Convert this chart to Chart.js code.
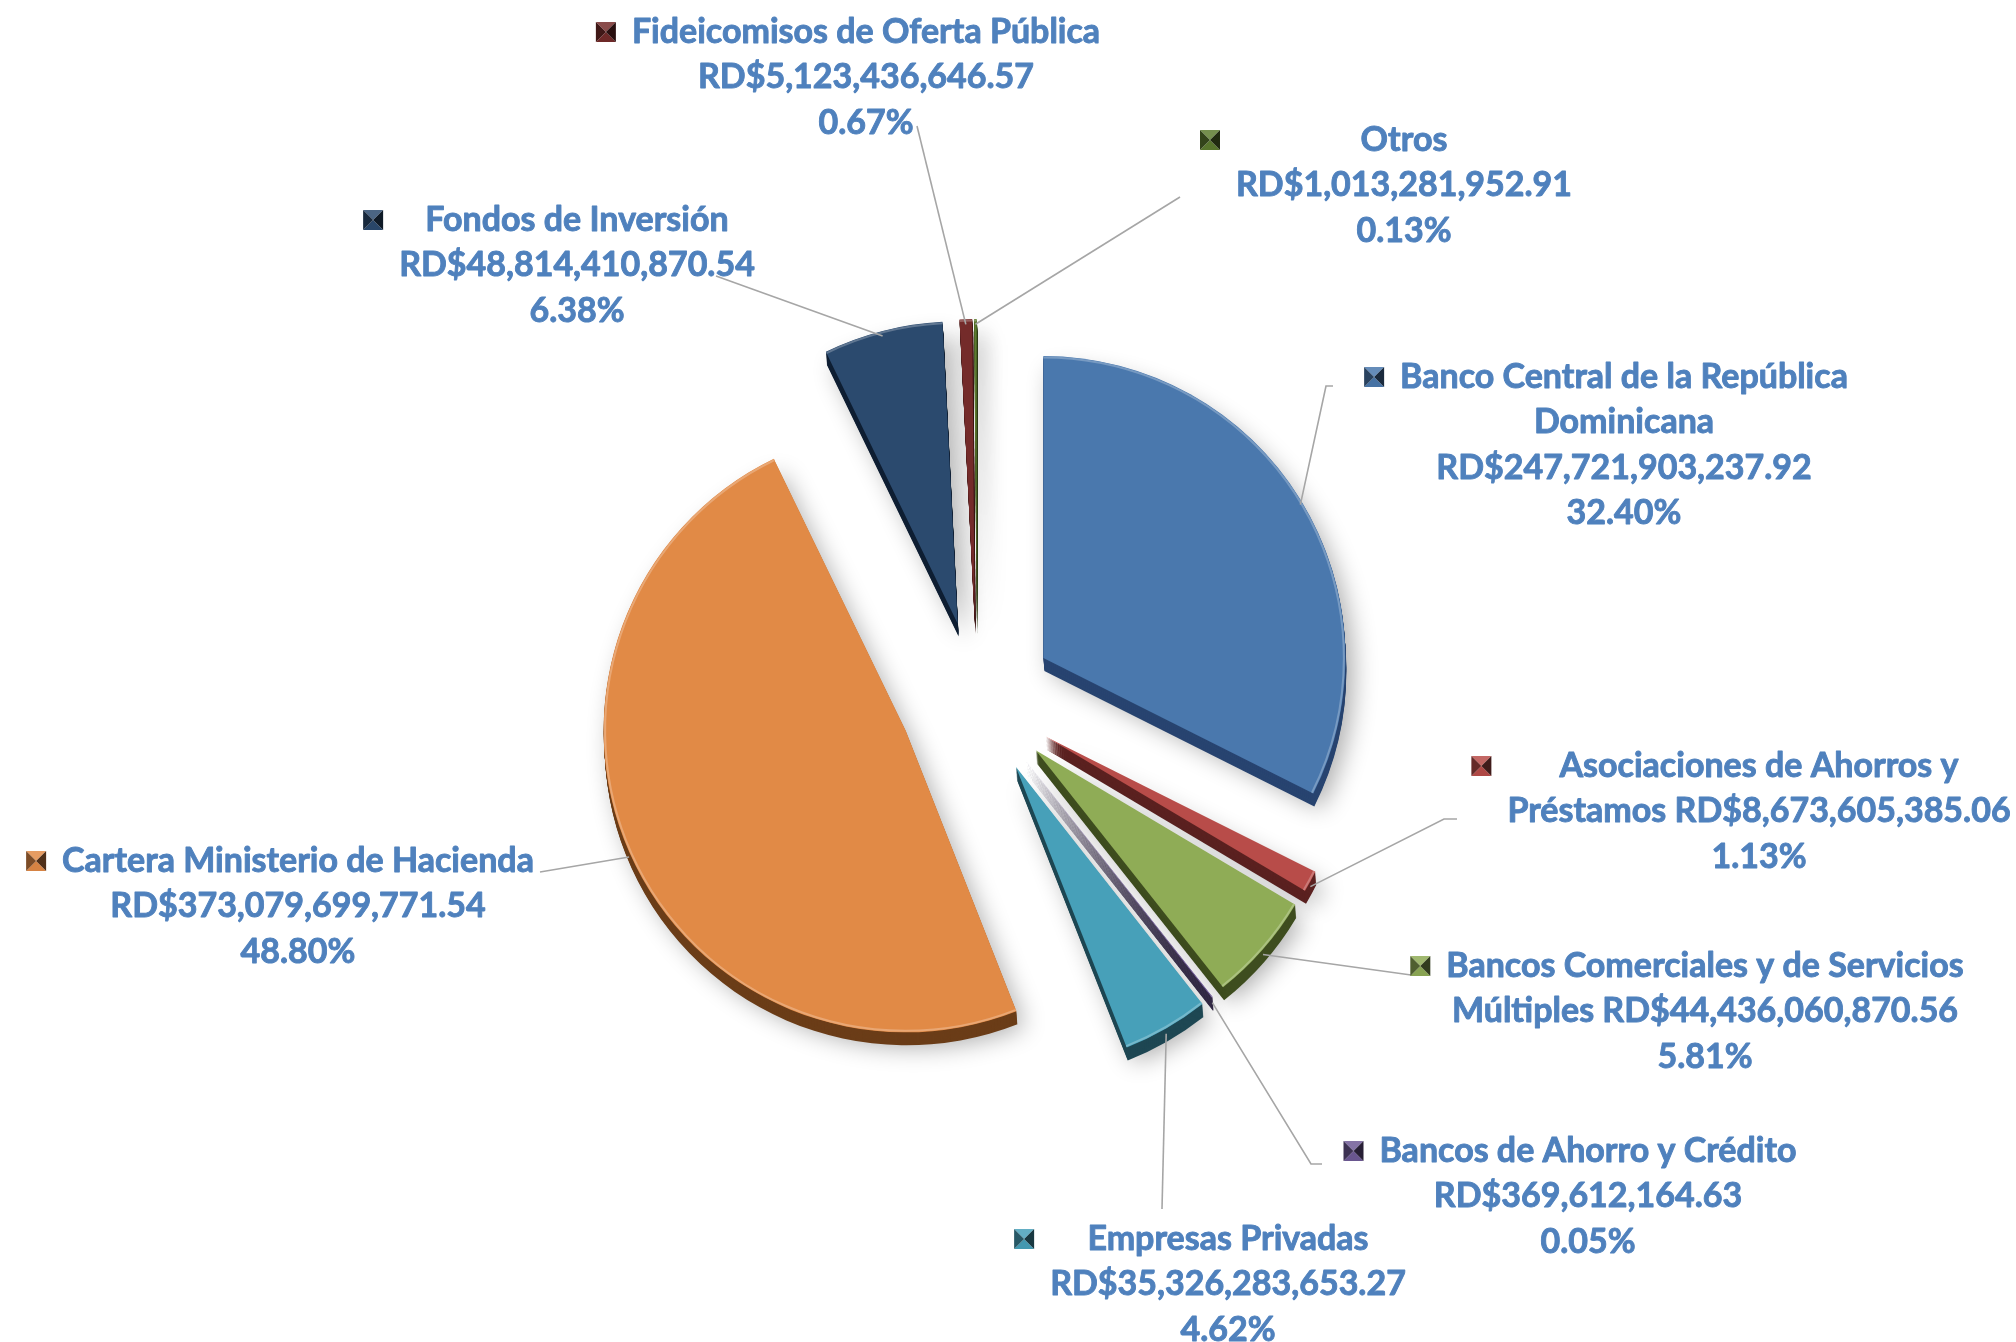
<!DOCTYPE html>
<html>
<head>
<meta charset="utf-8">
<script src="https://cdn.jsdelivr.net/npm/chart.js@4.4.0/dist/chart.umd.min.js"></script>
<style>
  html, body { margin: 0; padding: 0; background: #fff; }
  canvas { display: block; }
</style>
</head>
<body>
<canvas id="pie" width="2016" height="1342"></canvas>
<script>
// portfolio by holder, clockwise from 12 o'clock
const categories = [
  "Banco Central de la República Dominicana",
  "Asociaciones de Ahorros y Préstamos",
  "Bancos Comerciales y de Servicios Múltiples",
  "Bancos de Ahorro y Crédito",
  "Empresas Privadas",
  "Cartera Ministerio de Hacienda",
  "Fondos de Inversión",
  "Fideicomisos de Oferta Pública",
  "Otros"
];
const amounts = [
  247721903237.92, 8673605385.06, 44436060870.56, 369612164.63,
  35326283653.27, 373079699771.54, 48814410870.54, 5123436646.57, 1013281952.91
];

const topColors  = ["#4a78ad", "#b84c49", "#8fac56", "#6f5a96", "#47a0b9", "#e18a46", "#2b4a6e", "#742b2a", "#5d7b2f"];
const sideColors = ["#284470", "#5c2221", "#3e4d1f", "#2e2442", "#1e4753", "#6b3d18", "#0f1f33", "#3a1514", "#2c3a14"];

const TEXT_COLOR = "#4f81bd";
const FONT = "bold 34px Lato";
const LINE_H = 45.5;

// label placement: centre x, first line y, where the leader line meets the text
const labelLayout = [
  { cx: 1624, y: 377,  anchor: [1326, 386],  tick: 7,  wrap: 5, inline: false },
  { cx: 1759, y: 766,  anchor: [1444, 819],  tick: 13, wrap: 4, inline: true },
  { cx: 1705, y: 966,  anchor: [1411, 975],  tick: 12, wrap: 5, inline: true },
  { cx: 1588, y: 1151, anchor: [1311, 1164], tick: 11 },
  { cx: 1228, y: 1239, anchor: [1162, 1209] },
  { cx: 298,  y: 861,  anchor: [540, 872] },
  { cx: 577,  y: 220,  anchor: [716, 276] },
  { cx: 866,  y: 32,   anchor: [917, 126] },
  { cx: 1404, y: 140,  anchor: [1180, 197] }
];

const total = amounts.reduce((a, b) => a + b, 0);
const money = v => "RD$" + v.toLocaleString("en-US", { minimumFractionDigits: 2, maximumFractionDigits: 2 });
const pct = v => (v / total * 100).toFixed(2) + "%";

function shade(hex, f) {
  const n = parseInt(hex.slice(1), 16);
  let r = n >> 16, g = (n >> 8) & 255, b = n & 255;
  if (f >= 0) { r += (255 - r) * f; g += (255 - g) * f; b += (255 - b) * f; }
  else { r *= 1 + f; g *= 1 + f; b *= 1 + f; }
  return `rgb(${Math.round(r)},${Math.round(g)},${Math.round(b)})`;
}

function labelLines(i) {
  const lay = labelLayout[i];
  const words = categories[i].split(" ");
  let name = [categories[i]];
  if (lay.wrap) name = [words.slice(0, lay.wrap).join(" "), words.slice(lay.wrap).join(" ")];
  const lines = name.slice();
  if (lay.inline) lines[lines.length - 1] += " " + money(amounts[i]);
  else lines.push(money(amounts[i]));
  lines.push(pct(amounts[i]));
  return lines;
}

// exploded slices with a dark extruded side, drawn with the arc elements
const pie3d = {
  id: "pie3d",
  beforeDatasetDraw(chart, args, opts) {
    const ctx = chart.ctx;
    const arcs = args.meta.data;
    const shift = arc => {
      const mid = (arc.startAngle + arc.endAngle) / 2;
      ctx.translate(Math.cos(mid) * opts.explode, Math.sin(mid) * opts.explode);
    };
    arcs.forEach((arc, i) => {
      ctx.save();
      shift(arc);
      for (let k = opts.depth; k >= 1; k--) {
        if (k === opts.depth) {
          ctx.shadowColor = "rgba(0,0,0,0.32)";
          ctx.shadowBlur = 24;
          ctx.shadowOffsetX = 7;
          ctx.shadowOffsetY = 2;
        } else {
          ctx.shadowColor = "transparent";
        }
        const ox = arc.x + opts.dx * k / opts.depth, oy = arc.y + k;
        ctx.beginPath();
        ctx.moveTo(ox, oy);
        ctx.arc(ox, oy, arc.outerRadius, arc.startAngle, arc.endAngle);
        ctx.closePath();
        ctx.fillStyle = sideColors[i];
        ctx.fill();
      }
      ctx.restore();
    });
    arcs.forEach((arc, i) => {
      ctx.save();
      shift(arc);
      arc.draw(ctx);
      // thin bevel along the rim
      ctx.beginPath();
      ctx.arc(arc.x, arc.y, arc.outerRadius - 1.5, arc.startAngle, arc.endAngle);
      ctx.strokeStyle = shade(topColors[i], 0.25);
      ctx.lineWidth = 2;
      ctx.stroke();
      ctx.restore();
    });
    return false;
  }
};

function drawKey(ctx, x, y, s, color) {
  const c = [x + s / 2, y + s / 2];
  const tri = (p1, p2, fill) => {
    ctx.beginPath();
    ctx.moveTo(p1[0], p1[1]); ctx.lineTo(p2[0], p2[1]); ctx.lineTo(c[0], c[1]);
    ctx.closePath(); ctx.fillStyle = fill; ctx.fill();
  };
  tri([x, y], [x + s, y], shade(color, 0.15));
  tri([x, y + s], [x + s, y + s], shade(color, -0.05));
  tri([x, y], [x, y + s], shade(color, -0.45));
  tri([x + s, y], [x + s, y + s], shade(color, -0.65));
}

const pieLabels = {
  id: "pieLabels",
  afterDraw(chart, args, opts) {
    const ctx = chart.ctx;
    const meta = chart.getDatasetMeta(0);
    ctx.save();
    // leader lines
    ctx.strokeStyle = "#a6a6a6";
    ctx.lineWidth = 1.6;
    meta.data.forEach((arc, i) => {
      const lay = labelLayout[i];
      const mid = (arc.startAngle + arc.endAngle) / 2;
      const r = arc.outerRadius + opts.explode;
      const px = arc.x + Math.cos(mid) * r;
      const py = arc.y + Math.sin(mid) * r + opts.depth * 0.4;
      ctx.beginPath();
      ctx.moveTo(px, py);
      ctx.lineTo(lay.anchor[0], lay.anchor[1]);
      if (lay.tick) ctx.lineTo(lay.anchor[0] + lay.tick, lay.anchor[1]);
      ctx.stroke();
    });
    // text blocks with legend keys
    ctx.font = FONT;
    ctx.textAlign = "center";
    ctx.textBaseline = "middle";
    ctx.lineWidth = 0.9;
    ctx.lineJoin = "round";
    meta.data.forEach((arc, i) => {
      const lay = labelLayout[i];
      const lines = labelLines(i);
      const widest = Math.max(...lines.map(t => ctx.measureText(t).width));
      ctx.fillStyle = TEXT_COLOR;
      ctx.strokeStyle = TEXT_COLOR;
      lines.forEach((t, k) => {
        ctx.fillText(t, lay.cx, lay.y + k * LINE_H);
        ctx.strokeText(t, lay.cx, lay.y + k * LINE_H);
      });
      const ks = 20;
      drawKey(ctx, lay.cx - widest / 2 - 16 - ks, lay.y - ks / 2, ks, topColors[i]);
    });
    ctx.restore();
  }
};

new Chart(document.getElementById("pie"), {
  type: "pie",
  data: {
    labels: categories,
    datasets: [{
      data: amounts,
      backgroundColor: topColors,
      borderWidth: 0
    }]
  },
  options: {
    responsive: false,
    animation: false,
    devicePixelRatio: 1,
    layout: { padding: { left: 675, right: 737, top: 397, bottom: 341 } },
    plugins: {
      legend: { display: false },
      tooltip: { enabled: false },
      pie3d: { explode: 78, depth: 13, dx: 1 },
      pieLabels: { explode: 78, depth: 13 }
    }
  },
  plugins: [pie3d, pieLabels]
});
</script>
</body>
</html>
